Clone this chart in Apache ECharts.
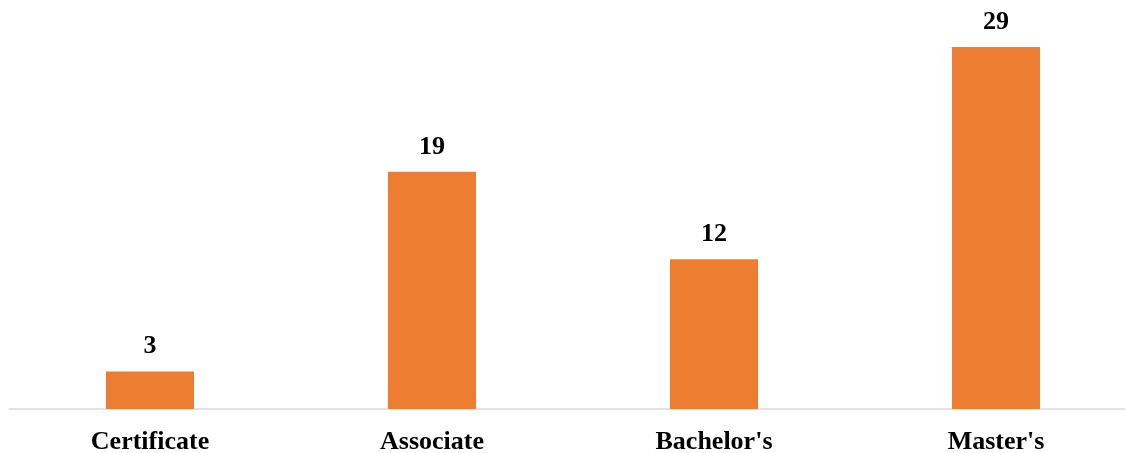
<!DOCTYPE html>
<html>
<head>
<meta charset="utf-8">
<script src="https://cdn.jsdelivr.net/npm/echarts@6/dist/echarts.min.js"></script>
<style>html,body{margin:0;padding:0;background:#fff}#c{width:1125px;height:453px}</style>
</head>
<body>
<div id="c"></div>
<script>
var categories = ["Certificate", "Associate", "Bachelor's", "Master's"];
var values = [3, 19, 12, 29];

var chart = echarts.init(document.getElementById('c'), null, {renderer: 'canvas'});
chart.setOption({
  animation: false,
  backgroundColor: '#ffffff',
  grid: {left: 9, right: -12, top: 9.6, bottom: 44, containLabel: false, outerBoundsMode: 'none'},
  xAxis: {
    type: 'category',
    data: categories,
    axisLine: {show: true, lineStyle: {color: '#D9D9D9', width: 1.5}},
    axisTick: {show: false},
    axisLabel: {
      color: '#000', fontFamily: 'Liberation Serif', fontWeight: 'bold', fontSize: 26, margin: 20
    }
  },
  yAxis: {
    type: 'value', min: 0, max: 32, show: false, splitLine: {show: false}
  },
  series: [{
    type: 'bar',
    data: values,
    barWidth: 88,
    itemStyle: {color: '#ED7D31'},
    label: {
      show: true, position: 'top', distance: 12,
      color: '#000', fontFamily: 'Liberation Serif', fontWeight: 'bold', fontSize: 26
    }
  }]
});
</script>
</body>
</html>
